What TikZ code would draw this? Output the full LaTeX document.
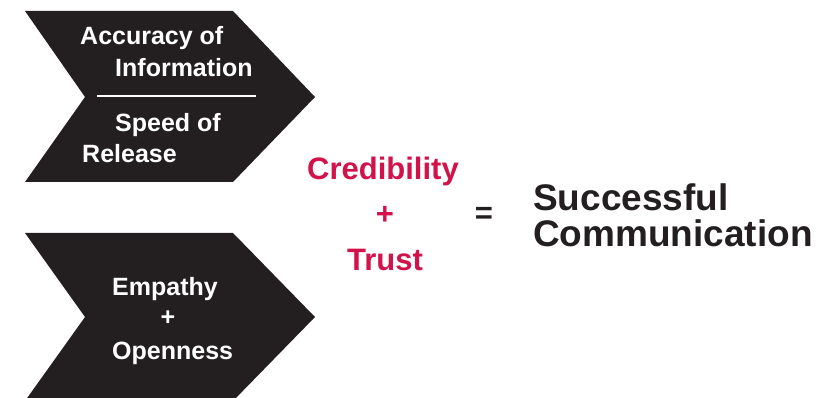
\documentclass[tikz,border=0pt]{standalone}
\usepackage{fontspec}
\setmainfont{Liberation Sans}
\usepackage{tikz}
\usepackage{xcolor}
\definecolor{ink}{RGB}{35,31,32}
\definecolor{cred}{RGB}{210,18,74}

\begin{document}
\begin{tikzpicture}[x=1pt,y=-1pt,
  chev/.style={fill=ink,draw=none},
  wtx/.style={text=white,font=\bfseries\fontsize{25}{30}\selectfont,inner sep=0pt},
  rtx/.style={text=cred,font=\bfseries\fontsize{31}{36}\selectfont,inner sep=0pt},
  btx/.style={text=ink,font=\bfseries\fontsize{37}{42}\selectfont,inner sep=0pt}]
\useasboundingbox (0,0) rectangle (838,398);
\fill[chev] (25,11)--(233,11)--(315,97)--(233,182)--(25,182)--(85,97)--cycle;
\fill[chev] (25,233)--(233,233)--(315,317)--(233,401)--(25,401)--(85,317)--cycle;
\node[wtx,anchor=base west] (acc) at (80,45) {Accuracy of};
\node[wtx,anchor=base west] (inf) at (115,77) {Information};
\coordinate (dl) at (97,96); \coordinate (dr) at (256,96);
\draw[white,line width=2.5pt] (dl)--(dr);
\node[wtx,anchor=base west] (spd) at (115,132) {Speed of};
\node[wtx,anchor=base west] (rel) at (82,163) {Release};
\node[wtx,anchor=base west] (emp) at (112,295) {Empathy};
\node[wtx] (pl1) at (168,318) {+};
\node[wtx,anchor=base west] (opn) at (112,359) {Openness};
\node[rtx,anchor=base west] (cre) at (307,180) {Credibility};
\node[rtx] (pl2) at (385,215) {+};
\node[rtx,anchor=base west] (tru) at (347,270) {Trust};
\node[btx,font=\bfseries\fontsize{31}{36}\selectfont] (eq) at (484,215) {=};
\node[btx,anchor=base west] (suc) at (533,211) {Successful};
\node[btx,anchor=base west] (com) at (533,247) {Communication};
\end{tikzpicture}
\end{document}
